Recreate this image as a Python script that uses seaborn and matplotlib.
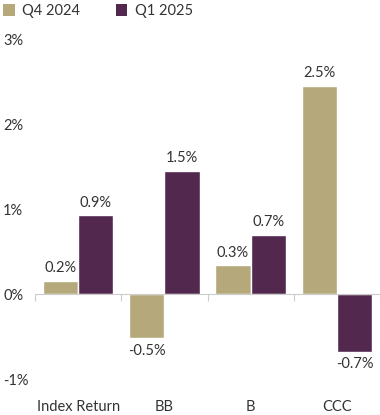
import matplotlib
matplotlib.use("Agg")
import matplotlib.pyplot as plt
import matplotlib.transforms as mtransforms
from matplotlib.patches import Patch
import seaborn as sns
import pandas as pd

categories = ["Index Return", "BB", "B", "CCC"]
series_names = ["Q4 2024", "Q1 2025"]
q4_2024 = [0.16, -0.52, 0.34, 2.46]
q1_2025 = [0.93, 1.46, 0.70, -0.68]
y_ticks = [-1, 0, 1, 2, 3]
y_tick_labels = ["-1%", "0%", "1%", "2%", "3%"]

colors = ["#b5a97b", "#53284f"]
text_color = "#333333"

sns.set_theme(style="white")
plt.rcParams["font.family"] = ["Lato", "DejaVu Sans"]

df = pd.DataFrame({
    "category": categories * 2,
    "series": [series_names[0]] * 4 + [series_names[1]] * 4,
    "value": q4_2024 + q1_2025,
})

fig = plt.figure(figsize=(3.8, 4.15), dpi=100)
ax = fig.add_axes([35 / 380, 1 - 379 / 415, 345 / 380, (379 - 40) / 415])

sns.barplot(data=df, x="category", y="value", hue="series", order=categories,
            hue_order=series_names, palette=colors, width=0.82, saturation=1,
            legend=False, ax=ax)

for cont in ax.containers:
    ax.bar_label(cont, fmt="{:.1f}%", padding=4, fontsize=10.5, color=text_color)

ax.set_ylim(-1, 3)
ax.set_xlim(-0.5, 3.5)
ax.set_yticks(y_ticks)
ax.set_yticklabels(y_tick_labels)
ax.tick_params(axis="y", length=0, pad=23, labelsize=10.5, labelcolor=text_color)
for lbl in ax.get_yticklabels():
    lbl.set_horizontalalignment("left")

for s in ["top", "right", "left"]:
    ax.spines[s].set_visible(False)
ax.spines["bottom"].set_position(("data", 0))
ax.spines["bottom"].set_color("#cccccc")
ax.spines["bottom"].set_linewidth(0.8)

ax.set_xticks([])
ax.set_xticks([-0.5, 0.5, 1.5, 2.5, 3.5], minor=True)
ax.tick_params(axis="x", which="minor", length=5, width=0.8, color="#cccccc",
               direction="out", bottom=True)
ax.set_xlabel("")
ax.set_ylabel("")

trans = mtransforms.blended_transform_factory(ax.transData, fig.transFigure)
for i, c in enumerate(categories):
    ax.text(i, 1 - 407 / 415, c, transform=trans, ha="center", va="center",
            fontsize=10.5, color=text_color)

handles = [Patch(facecolor=colors[0], edgecolor="none"),
           Patch(facecolor=colors[1], edgecolor="none")]
fig.legend(handles, series_names, loc="upper left", bbox_to_anchor=(-0.027, 1.022),
           ncol=2, frameon=False, handlelength=0.8, handleheight=0.8,
           handletextpad=0.5, columnspacing=2.45, fontsize=10.5,
           labelcolor=text_color)

fig.savefig("out.png", dpi=100)
